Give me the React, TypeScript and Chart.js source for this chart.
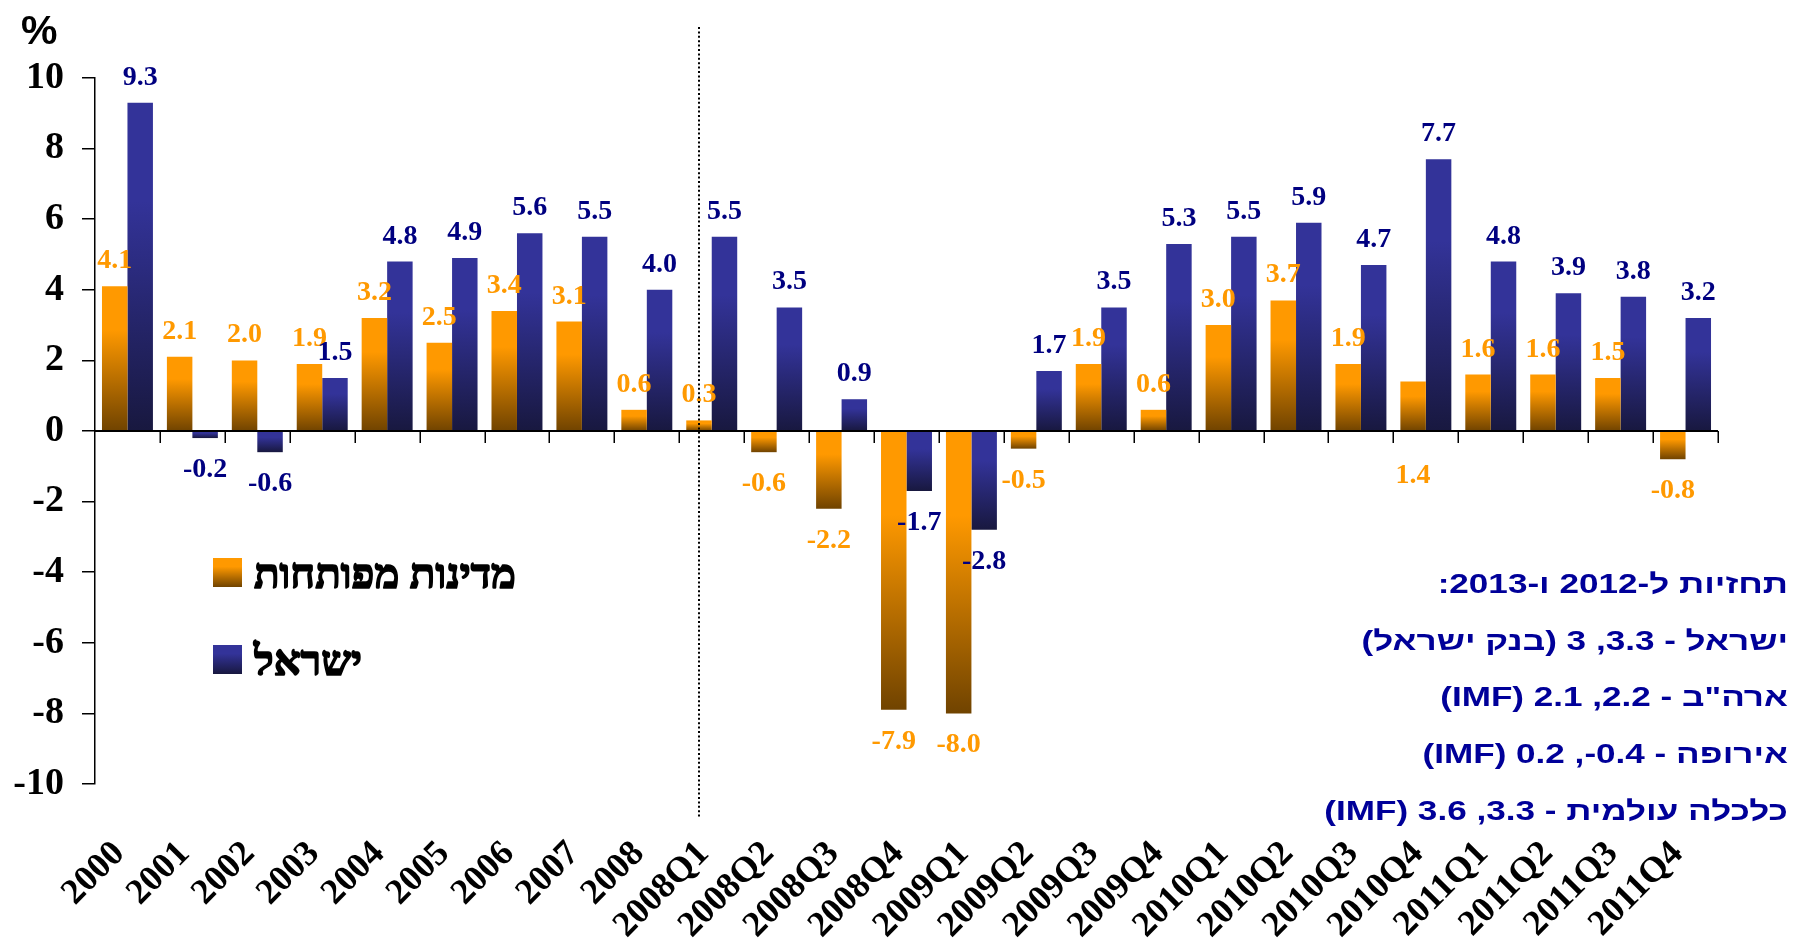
import React, { useEffect, useRef } from "react";
import { Chart, registerables } from "chart.js";

Chart.register(...registerables);

// Period labels: annual figures, then quarterly (annualised) figures
const categories = [
  "2000", "2001", "2002", "2003", "2004", "2005", "2006", "2007", "2008",
  "2008Q1", "2008Q2", "2008Q3", "2008Q4",
  "2009Q1", "2009Q2", "2009Q3", "2009Q4",
  "2010Q1", "2010Q2", "2010Q3", "2010Q4",
  "2011Q1", "2011Q2", "2011Q3", "2011Q4",
];

// GDP growth, % — developed economies
const developedGrowth = [
  4.1, 2.1, 2.0, 1.9, 3.2, 2.5, 3.4, 3.1, 0.6,
  0.3, -0.6, -2.2, -7.9,
  -8.0, -0.5, 1.9, 0.6,
  3.0, 3.7, 1.9, 1.4,
  1.6, 1.6, 1.5, -0.8,
];

// GDP growth, % — Israel
const israelGrowth = [
  9.3, -0.2, -0.6, 1.5, 4.8, 4.9, 5.6, 5.5, 4.0,
  5.5, 3.5, 0.9, -1.7,
  -2.8, 1.7, 3.5, 5.3,
  5.5, 5.9, 4.7, 7.7,
  4.8, 3.9, 3.8, 3.2,
];

const seriesNames = ["מדינות מפותחות", "ישראל"];

const yTickRange = { min: -10, max: 10, step: 2 };

const forecastLines = [
  "תחזיות ל-2012 ו-2013:",
  "ישראל - 3.3, 3 (בנק ישראל)",
  "ארה\"ב - 2.2, 2.1 (IMF)",
  "אירופה - 0.4-, 0.2 (IMF)",
  "כלכלה עולמית - 3.3, 3.6 (IMF)",
];

// the first quarterly period, where the dotted separator is drawn
const separatorIndex = 9;
// developed-economies labels that sit under the zero line
const developedLabelsUnderAxis = [20];

const ORANGE_TOP = "#FF9900";
const ORANGE_BOTTOM = "#704300";
const BLUE_TOP = "#333399";
const BLUE_BOTTOM = "#18183F";
const ORANGE_TEXT = "#FF9900";
const BLUE_TEXT = "#000080";
const NOTE_TEXT = "#000099";

const SERIF = "'Liberation Serif', 'Times New Roman', serif";
const SANS = "'Liberation Sans', Arial, sans-serif";

function makeGradient(ctx: CanvasRenderingContext2D, top: number, bottom: number, c1: string, c2: string) {
  const g = ctx.createLinearGradient(0, top, 0, bottom);
  g.addColorStop(0, c1);
  g.addColorStop(0.3, c1);
  g.addColorStop(1, c2);
  return g;
}

function barFill(c1: string, c2: string) {
  return (context: any) => {
    const chart = context.chart;
    const v = context.raw;
    const ys = chart.scales && chart.scales.y;
    if (!chart.chartArea || typeof v !== "number" || !ys) return c1;
    const top = ys.getPixelForValue(Math.max(v, 0));
    const bottom = ys.getPixelForValue(Math.min(v, 0));
    if (Math.abs(bottom - top) < 1) return c1;
    return makeGradient(chart.ctx, top, bottom, c1, c2);
  };
}

const decorations = {
  id: "decorations",
  afterDatasetsDraw(chart: any) {
    const { ctx, chartArea, scales } = chart;
    const ys = scales.y;
    const zeroY = ys.getPixelForValue(0);
    const n = categories.length;
    const step = (chartArea.right - chartArea.left) / n;

    ctx.save();
    // zero line with period boundary ticks
    ctx.strokeStyle = "#000";
    ctx.lineWidth = 2;
    ctx.beginPath();
    ctx.moveTo(chartArea.left, zeroY);
    ctx.lineTo(chartArea.right, zeroY);
    ctx.stroke();
    ctx.lineWidth = 1.5;
    for (let i = 1; i <= n; i++) {
      const x = Math.round(chartArea.left + i * step) + 0.25;
      ctx.beginPath();
      ctx.moveTo(x, zeroY);
      ctx.lineTo(x, zeroY + 12);
      ctx.stroke();
    }

    // value labels
    ctx.font = `bold 28px ${SERIF}`;
    ctx.textAlign = "center";
    ctx.textBaseline = "alphabetic";
    const colors = [ORANGE_TEXT, BLUE_TEXT];
    chart.data.datasets.forEach((ds: any, di: number) => {
      const meta = chart.getDatasetMeta(di);
      meta.data.forEach((bar: any, i: number) => {
        const v = ds.data[i] as number;
        const text = v.toFixed(1);
        ctx.fillStyle = colors[di];
        let y: number;
        if (di === 0 && developedLabelsUnderAxis.includes(i)) {
          y = zeroY + 52;
        } else if (v >= 0) {
          y = bar.y - 18;
        } else {
          y = bar.y + 39;
        }
        ctx.fillText(text, bar.x, y);
      });
    });

    // dotted separator between annual and quarterly figures
    const sepX = chart.getDatasetMeta(0).data[separatorIndex].x;
    ctx.strokeStyle = "#000";
    ctx.lineWidth = 2;
    ctx.setLineDash([2, 2.4]);
    ctx.beginPath();
    ctx.moveTo(sepX, 27);
    ctx.lineTo(sepX, 818);
    ctx.stroke();
    ctx.setLineDash([]);

    // unit
    ctx.fillStyle = "#000";
    ctx.font = `bold 41px ${SANS}`;
    ctx.textAlign = "left";
    ctx.fillText("%", 21, 44);

    // legend
    const swatches = [
      { y: 558, c1: ORANGE_TOP, c2: ORANGE_BOTTOM },
      { y: 645, c1: BLUE_TOP, c2: BLUE_BOTTOM },
    ];
    swatches.forEach((s, i) => {
      ctx.fillStyle = makeGradient(ctx, s.y, s.y + 29, s.c1, s.c2);
      ctx.fillRect(213, s.y, 29, 29);
      ctx.fillStyle = "#000";
      ctx.strokeStyle = "#000";
      ctx.lineWidth = 1.6;
      ctx.lineJoin = "round";
      ctx.font = `bold 42px ${SERIF}`;
      ctx.direction = "rtl";
      ctx.textAlign = "left";
      ctx.fillText(seriesNames[i], 254, s.y + 30);
      ctx.strokeText(seriesNames[i], 254, s.y + 30);
    });

    // forecast notes, set in a wide bold sans
    ctx.fillStyle = NOTE_TEXT;
    ctx.font = `bold 27px ${SANS}`;
    ctx.direction = "rtl";
    ctx.textAlign = "right";
    forecastLines.forEach((line, i) => {
      ctx.save();
      ctx.translate(1788, 593 + i * 56.7);
      ctx.scale(1.3, 1);
      ctx.fillText(line, 0, 0);
      ctx.restore();
    });
    ctx.restore();
  },
};

export default function App() {
  const canvasRef = useRef<HTMLCanvasElement | null>(null);

  useEffect(() => {
    if (!canvasRef.current) return;
    const chart = new Chart(canvasRef.current, {
      type: "bar",
      data: {
        labels: categories,
        datasets: [
          {
            label: seriesNames[0],
            data: developedGrowth,
            backgroundColor: barFill(ORANGE_TOP, ORANGE_BOTTOM),
            borderWidth: 0,
            categoryPercentage: 0.785,
            barPercentage: 1,
          },
          {
            label: seriesNames[1],
            data: israelGrowth,
            backgroundColor: barFill(BLUE_TOP, BLUE_BOTTOM),
            borderWidth: 0,
            categoryPercentage: 0.785,
            barPercentage: 1,
          },
        ],
      },
      options: {
        animation: false,
        responsive: true,
        maintainAspectRatio: false,
        layout: { padding: { top: 78, right: 91, left: 0, bottom: 0 } },
        plugins: {
          legend: { display: false },
          tooltip: { enabled: false },
          title: { display: false },
        },
        scales: {
          x: {
            type: "category",
            grid: { display: false, drawTicks: false },
            border: { display: false },
            ticks: {
              autoSkip: false,
              minRotation: 45,
              maxRotation: 45,
              padding: 49,
              labelOffset: -8,
              color: "#000",
              font: { family: SERIF, size: 36, weight: "bold" },
            },
            afterFit: (scale: any) => {
              scale.height = 941 - 784;
            },
          },
          y: {
            min: yTickRange.min,
            max: yTickRange.max,
            ticks: {
              stepSize: yTickRange.step,
              padding: 18,
              color: "#000",
              font: { family: SERIF, size: 38, weight: "bold" },
            },
            grid: {
              drawOnChartArea: false,
              drawTicks: true,
              tickLength: 13,
              color: "#000",
              lineWidth: 1.5,
            },
            border: { display: true, color: "#000", width: 1.5 },
            afterFit: (scale: any) => {
              scale.width = 95;
            },
          },
        },
      },
      plugins: [decorations],
    });
    return () => chart.destroy();
  }, []);

  return (
    <div style={{ position: "absolute", left: 0, top: 0, width: 1809, height: 941, background: "#fff" }}>
      <canvas ref={canvasRef} />
    </div>
  );
}
